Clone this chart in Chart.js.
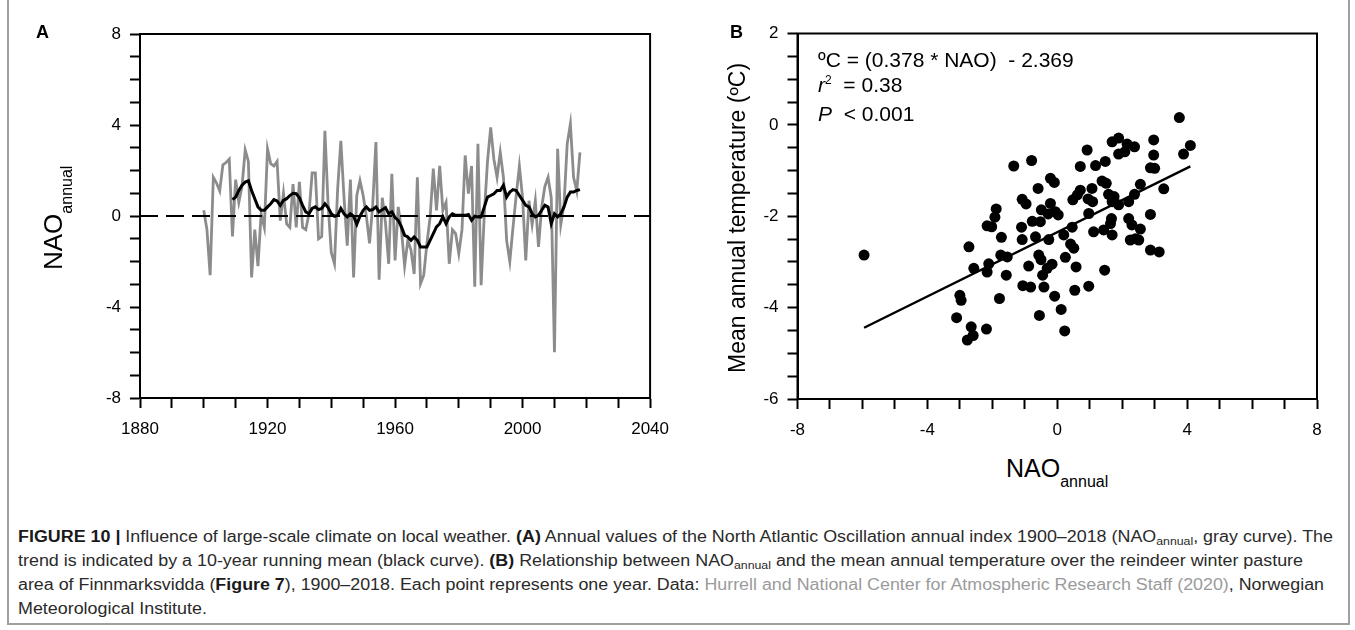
<!DOCTYPE html>
<html><head><meta charset="utf-8">
<script src="https://cdn.jsdelivr.net/npm/chart.js@4.4.1/dist/chart.umd.min.js"></script>
<style>
html,body{margin:0;padding:0;background:#fff;}
body{width:1355px;height:630px;position:relative;overflow:hidden;font-family:"Liberation Sans",Arial,sans-serif;color:#000;}
.abs{position:absolute;white-space:nowrap;}
.rot{transform-origin:0 0;transform:rotate(-90deg);}
.sub{position:relative;top:10px;font-size:16px;}
.sup{position:relative;top:-8px;font-size:12px;}
#frame{position:absolute;left:7px;top:-4px;width:1343px;height:629px;border:2px solid #a0a0a0;box-sizing:border-box;}
.cap{position:absolute;left:18px;white-space:nowrap;font-size:16px;line-height:24px;color:#2a2a2a;transform-origin:0 50%;}
.cap b{font-weight:bold;color:#1a1a1a;}
.cap .lnk{color:#9b9b9b;}
.cap .cs{font-size:11px;position:relative;top:3px;}
#wa{position:absolute;left:0;top:0;width:680px;height:450px;}
#wb{position:absolute;left:700px;top:0;width:650px;height:450px;}
</style>
</head>
<body>
<div id="frame"></div>
<div id="wa"><canvas id="chartA" width="680" height="450"></canvas></div>
<div id="wb"><canvas id="chartB" width="650" height="450"></canvas></div>

<div class="abs" style="left:36px;top:23px;font-size:18px;line-height:18px;font-weight:bold;">A</div>
<div class="abs" style="left:730px;top:23px;font-size:18px;line-height:18px;font-weight:bold;">B</div>

<div class="abs rot" style="left:40px;top:270px;font-size:26px;line-height:26px;">NAO<span class="sub">annual</span></div>
<div class="abs rot" style="left:725.5px;top:373px;font-size:23px;line-height:23px;">Mean annual temperature (ºC)</div>
<div class="abs" style="left:1006px;top:456px;font-size:25px;line-height:25px;">NAO<span class="sub">annual</span></div>

<div class="abs" style="left:818px;top:47px;font-size:21px;line-height:25px;">
ºC = (0.378 * NAO)&nbsp; - 2.369<br>
<i>r</i><span class="sup">2</span>&nbsp; = 0.38<br>
<i>P</i>&nbsp; &lt; 0.001
</div>

<div class="cap" style="top:525px;"><b>FIGURE 10 |</b> Influence of large-scale climate on local weather. <b>(A)</b> Annual values of the North Atlantic Oscillation annual index 1900–2018 (NAO<span class="cs">annual</span>, gray curve). The</div>
<div class="cap" style="top:549px;">trend is indicated by a 10-year running mean (black curve). <b>(B)</b> Relationship between NAO<span class="cs">annual</span> and the mean annual temperature over the reindeer winter pasture</div>
<div class="cap" style="top:573px;">area of Finnmarksvidda (<b>Figure 7</b>), 1900–2018. Each point represents one year. Data: <span class="lnk">Hurrell and National Center for Atmospheric Research Staff (2020)</span>, Norwegian</div>
<div class="cap" style="top:597px;">Meteorological Institute.</div>

<script>
// ---------- Panel A data ----------
const startYear = 1900;
const naoAnnual = [
 0.25,-0.6,-2.6,1.7,1.45,1.1,2.25,2.35,2.5,-0.9,
 1.6,0.6,1.3,2.9,2.4,-2.7,-0.6,-2.2,0.1,-0.5,
 2.95,2.3,2.2,2.4,-0.2,1.0,-0.35,-0.5,1.4,-0.5,
 1.5,-0.5,-0.6,0.1,1.9,1.9,-1.0,-0.9,3.75,0.5,
 -1.6,-2.1,1.2,3.3,0.8,-1.3,1.6,-2.7,0.9,1.55,
 0.9,0.0,-1.2,0.5,3.25,-2.8,0.8,-0.3,-2.1,1.85,
 -1.95,0.4,-0.6,-2.2,-1.07,-1.5,-2.55,1.7,-2.97,-2.6,
 -1.2,-0.05,2.08,0.25,2.2,0.25,0.6,-2.1,-0.6,-0.77,
 -1.65,-0.6,2.66,0.98,2.2,-3.11,3.17,-3.04,0.1,2.4,
 3.9,2.5,1.7,2.8,1.7,-1.07,-2.0,-0.5,0.9,2.2,
 0.8,-1.95,0.67,-0.37,0.67,-1.36,0.4,1.3,1.7,0.8,
 -5.99,2.95,-0.37,0.5,3.17,4.05,1.7,1.1,2.8
];
const runStartYear = 1909;
const naoRunningMean = [
 0.72,
 0.83,1.12,1.35,1.49,1.55,1.12,0.76,0.40,0.25,0.25,
 0.40,0.54,0.72,0.66,0.47,0.69,0.76,0.90,1.00,0.98,
 0.80,0.47,0.18,0.10,0.33,0.40,0.28,0.33,0.54,0.37,
 0.10,-0.01,0.03,0.33,0.10,-0.04,0.10,-0.01,-0.37,-0.01,
 0.25,0.40,0.25,0.28,0.40,0.18,0.28,0.37,0.10,0.18,
 -0.07,-0.19,-0.48,-0.85,-0.92,-1.07,-0.92,-1.07,-1.36,-1.36,
 -1.36,-1.07,-0.77,-0.48,-0.34,-0.04,-0.34,-0.04,0.10,0.03,
 0.03,0.03,0.03,0.07,-0.19,-0.01,-0.04,-0.04,0.40,0.83,
 0.90,0.98,1.12,1.12,1.35,0.83,1.05,1.16,1.12,0.90,
 0.69,0.47,0.40,0.10,-0.04,0.03,0.25,0.47,0.40,-0.34,
 0.10,-0.04,0.10,0.40,0.83,1.05,1.05,1.12,1.16
];
const zeroLineYears = [1880, 2040];
const zeroLineValues = [0, 0];
const yearTickLabels = [1880, 1920, 1960, 2000, 2040];
const naoTickLabels = [-8, -4, 0, 4, 8];

// ---------- Panel B data ----------
const scatterNao = [
 -5.95,-2.72,-2.57,-3.00,-2.96,-3.10,-2.65,-2.59,-2.77,-2.16,
 -2.11,-2.16,-2.18,0.92,0.71,-1.34,-0.79,-0.59,-0.21,-0.09,
 0.71,0.48,-1.08,-0.96,-1.88,-1.92,-2.02,-0.49,-0.21,-0.06,
 0.03,-0.77,-0.52,-1.10,0.46,0.20,-1.72,-1.08,-0.67,-0.26,
 0.41,0.51,-1.74,-1.54,-0.57,-0.50,0.25,-0.88,-0.16,-0.31,
 -0.45,0.58,-1.57,-1.06,-0.82,-0.41,0.54,0.97,-0.08,-1.78,
 0.12,-0.55,0.23,3.76,4.10,3.89,2.97,2.97,2.87,3.00,
 3.28,2.87,1.89,1.69,2.15,2.38,1.89,2.08,1.48,1.18,
 1.38,1.51,1.07,1.58,1.69,2.56,2.38,2.20,1.89,1.09,
 0.97,1.67,1.64,2.20,2.30,2.56,2.41,2.25,2.51,1.12,
 1.43,1.69,2.87,3.14,1.46,1.75,0.62,0.95,-0.28
];
const scatterTemp = [
 -2.85,-2.67,-3.14,-3.73,-3.84,-4.22,-4.42,-4.61,-4.71,-2.21,
 -3.04,-3.22,-4.47,-0.55,-0.91,-0.90,-0.78,-1.39,-1.17,-1.26,
 -1.43,-1.64,-1.63,-1.73,-1.84,-2.02,-2.23,-1.86,-1.72,-1.90,
 -1.97,-2.11,-2.12,-2.24,-2.24,-2.41,-2.46,-2.51,-2.45,-2.51,
 -2.61,-2.70,-2.85,-2.89,-2.85,-2.95,-2.90,-3.09,-3.05,-3.14,
 -3.29,-3.11,-3.29,-3.52,-3.55,-3.55,-3.62,-3.53,-3.75,-3.80,
 -4.04,-4.17,-4.51,0.16,-0.45,-0.64,-0.33,-0.66,-0.94,-0.95,
 -1.40,-1.96,-0.29,-0.37,-0.42,-0.48,-0.64,-0.59,-0.80,-0.89,
 -1.23,-1.28,-1.39,-1.52,-1.68,-1.30,-1.52,-1.68,-1.75,-1.68,
 -1.94,-2.05,-2.16,-2.05,-2.19,-2.28,-2.49,-2.52,-2.52,-2.34,
 -2.30,-2.41,-2.74,-2.78,-3.18,-1.57,-1.53,-1.62,-1.95
];
const fitNao = [-5.95, 4.10];
const fitTemp = [-4.44, -0.91];
const xNaoTickLabels = [-8, -4, 0, 4, 8];
const tempTickLabels = [-6, -4, -2, 0, 2];

// ---------- build ----------
const FONT = "'Liberation Sans', Arial, sans-serif";
const naoPts = naoAnnual.map((v, i) => ({x: startYear + i, y: v}));
const runPts = naoRunningMean.map((v, i) => ({x: runStartYear + i, y: v}));
const zeroPts = zeroLineYears.map((yr, i) => ({x: yr, y: zeroLineValues[i]}));
const scatPts = scatterNao.map((v, i) => ({x: v, y: scatterTemp[i]}));
const fitPts = fitNao.map((v, i) => ({x: v, y: fitTemp[i]}));

const framePlugin = {
  id: 'frame',
  afterDraw(chart) {
    const {ctx, chartArea: a} = chart;
    ctx.save();
    ctx.strokeStyle = '#000';
    ctx.lineWidth = 2;
    ctx.strokeRect(a.left, a.top, a.right - a.left, a.bottom - a.top);
    ctx.restore();
  }
};

function axis(min, max, step, labels, isX, fitSize, pad) {
  return {
    type: 'linear', min, max,
    ticks: {
      stepSize: step, autoSkip: false, maxRotation: 0, includeBounds: true,
      padding: pad, color: '#000', font: {family: FONT, size: 17},
      callback: (v) => labels.some(l => Math.abs(l - v) < 1e-6) ? String(v) : ''
    },
    grid: {display: true, drawOnChartArea: false, drawTicks: true, tickLength: 10, tickWidth: 2, tickColor: '#000'},
    border: {display: true, color: '#000', width: 2},
    afterFit: (s) => { if (isX) s.height = fitSize; else s.width = fitSize; }
  };
}

const common = {
  responsive: false, animation: false, devicePixelRatio: 1,
  plugins: {legend: {display: false}, tooltip: {enabled: false}}
};

new Chart(document.getElementById('chartA'), {
  type: 'line',
  data: {datasets: [
    {label: '10-year running mean', data: runPts, borderColor: '#000', borderWidth: 3, pointRadius: 0, tension: 0, order: 0},
    {label: 'zero', data: zeroPts, borderColor: '#000', borderWidth: 2, borderDash: [18, 8], pointRadius: 0, order: 1},
    {label: 'NAO annual', data: naoPts, borderColor: '#8c8c8c', borderWidth: 2.8, pointRadius: 0, tension: 0, order: 2}
  ]},
  options: Object.assign({}, common, {
    layout: {padding: {top: 34, right: 21, left: 0, bottom: 0}},
    scales: {
      x: axis(1880, 2040, 10, yearTickLabels, true, 52, 11),
      y: axis(-8, 8, 1, naoTickLabels, false, 140, 9)
    }
  }),
  plugins: [framePlugin]
});

new Chart(document.getElementById('chartB'), {
  type: 'scatter',
  data: {datasets: [
    {label: 'years', data: scatPts, backgroundColor: '#000', borderColor: '#000', pointRadius: 5.5, borderWidth: 0, order: 0},
    {type: 'line', label: 'fit', data: fitPts, borderColor: '#000', borderWidth: 2.4, pointRadius: 0, showLine: true, order: 1}
  ]},
  options: Object.assign({}, common, {
    layout: {padding: {top: 33.5, right: 33, left: 0, bottom: 0}},
    scales: {
      x: axis(-8, 8, 1, xNaoTickLabels, true, 51, 11),
      y: axis(-6, 2, 0.5, tempTickLabels, false, 97.5, 9)
    }
  }),
  plugins: [framePlugin]
});

// fit caption lines to their measured widths in the reference (last line uses first line's factor)
const capTargets = [1315, 1285, 1306, null];
const capLines = document.querySelectorAll('.cap');
const baseFactor = capTargets[0] / capLines[0].getBoundingClientRect().width;
capLines.forEach((el, i) => {
  const w = el.getBoundingClientRect().width;
  const f = capTargets[i] ? capTargets[i] / w : baseFactor;
  el.style.transform = 'scaleX(' + f + ')';
});
</script>
</body></html>
